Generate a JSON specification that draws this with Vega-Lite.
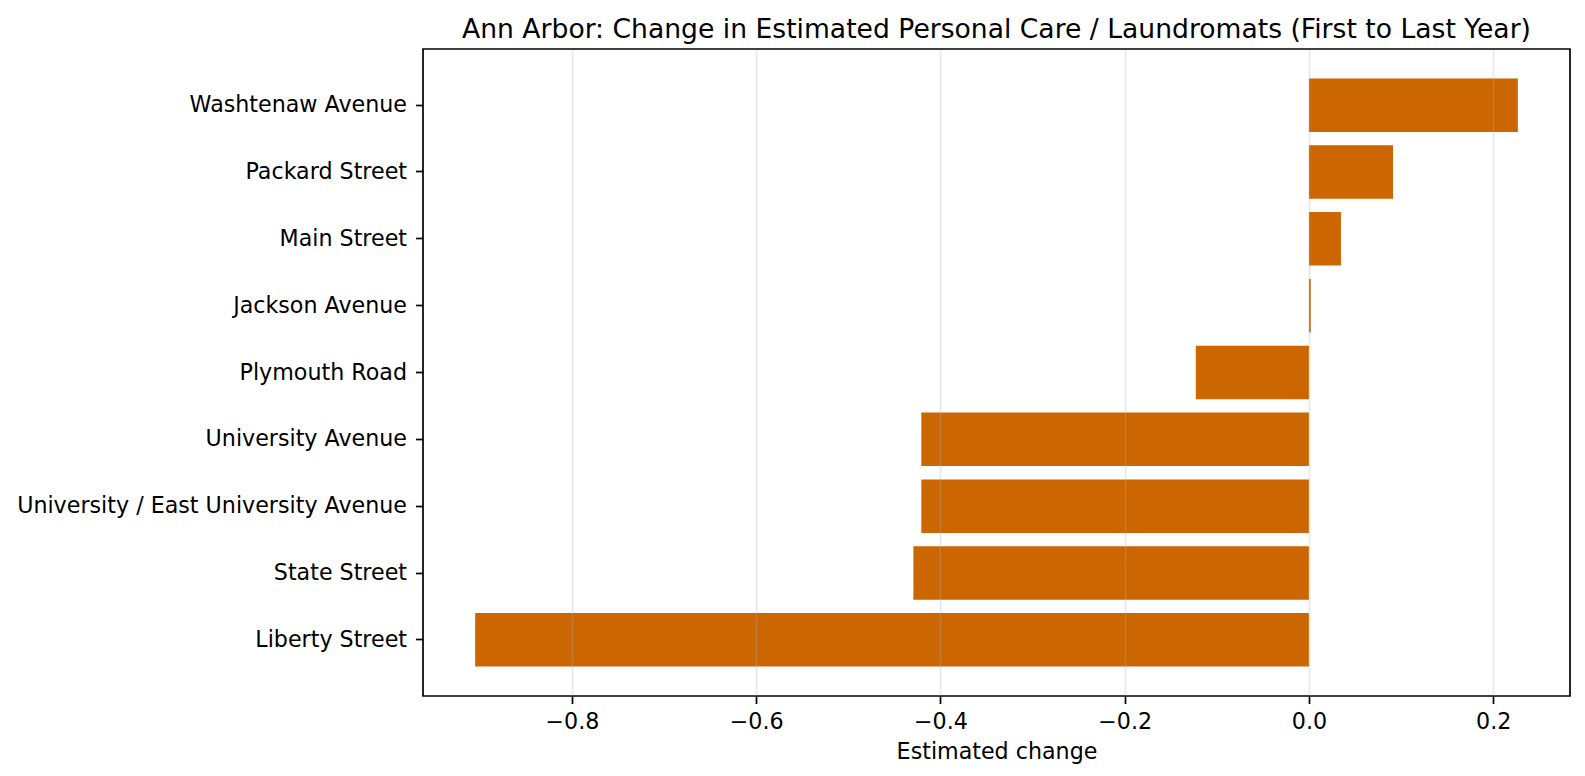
{
  "$schema": "https://vega.github.io/schema/vega-lite/v6.json",
  "width": 1147,
  "height": 647,
  "autosize": {"type": "none"},
  "padding": {"left": 423, "top": 49, "right": 15, "bottom": 80},
  "background": "white",
  "title": {
    "text": "Ann Arbor: Change in Estimated Personal Care / Laundromats (First to Last Year)",
    "font": "DejaVu Sans",
    "fontSize": 26.6,
    "fontWeight": "normal",
    "color": "#000000",
    "anchor": "middle",
    "frame": "group",
    "baseline": "bottom",
    "offset": -22
  },
  "data": {
    "values": [
      {"corridor": "Washtenaw Avenue", "change": 0.2268},
      {"corridor": "Packard Street", "change": 0.0913},
      {"corridor": "Main Street", "change": 0.0348},
      {"corridor": "Jackson Avenue", "change": 0.002},
      {"corridor": "Plymouth Road", "change": -0.1228},
      {"corridor": "University Avenue", "change": -0.4207},
      {"corridor": "University / East University Avenue", "change": -0.4207},
      {"corridor": "State Street", "change": -0.4293},
      {"corridor": "Liberty Street", "change": -0.905}
    ]
  },
  "mark": {"type": "bar", "color": "#cc6600"},
  "encoding": {
    "y": {
      "field": "corridor",
      "type": "nominal",
      "sort": null,
      "title": null,
      "scale": {"paddingInner": 0.2, "paddingOuter": 0.44},
      "axis": {"grid": false, "labelLimit": 600, "labelPadding": 9}
    },
    "x": {
      "field": "change",
      "type": "quantitative",
      "title": "Estimated change",
      "scale": {"domain": [-0.9616, 0.2834], "nice": false, "zero": false},
      "axis": {
        "values": [-0.8, -0.6, -0.4, -0.2, 0, 0.2],
        "format": ".1f",
        "grid": true,
        "gridColor": "#b0b0b0",
        "gridOpacity": 0.3,
        "gridWidth": 1.6,
        "zindex": 1
      }
    }
  },
  "config": {
    "view": {"stroke": "#000000", "strokeWidth": 1.7},
    "axis": {
      "domain": false,
      "labelFont": "DejaVu Sans",
      "labelFontSize": 22.2,
      "labelColor": "#000000",
      "labelPadding": 7,
      "tickColor": "#000000",
      "tickWidth": 1.7,
      "tickSize": 7.5,
      "titleFont": "DejaVu Sans",
      "titleFontSize": 22.2,
      "titleFontWeight": "normal",
      "titleColor": "#000000",
      "titlePadding": 8
    }
  }
}
